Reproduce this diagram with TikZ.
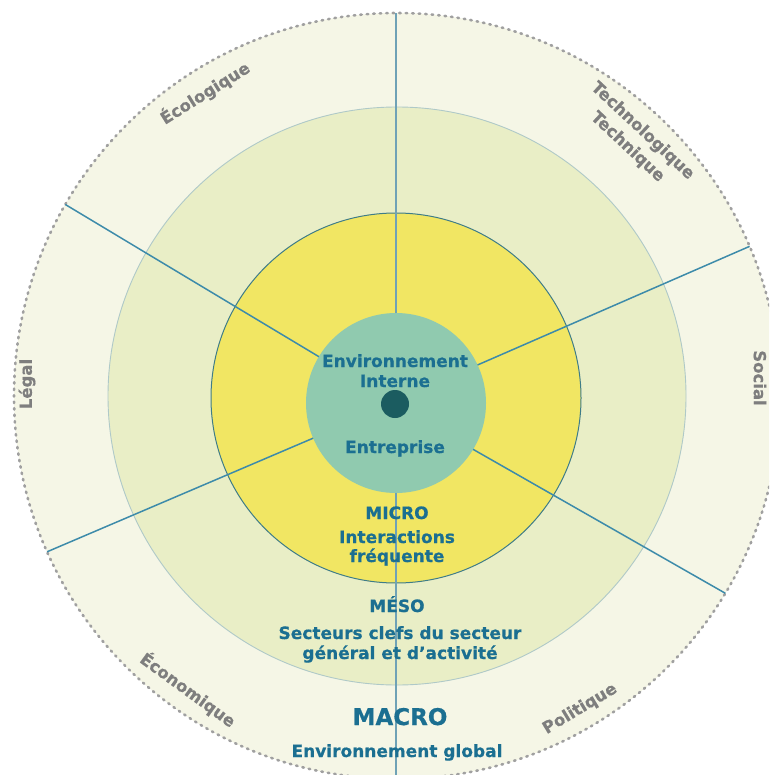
\documentclass[tikz,border=0pt]{standalone}
\usepackage{fontspec}
\setmainfont{DejaVu Sans}[BoldFeatures={FakeBold=0.6}]
\definecolor{outerfill}{HTML}{F5F6E6}
\definecolor{mesofill}{HTML}{E9EEC6}
\definecolor{mesoline}{HTML}{AFC9C8}
\definecolor{microfill}{HTML}{F1E663}
\definecolor{microline}{HTML}{3E7C88}
\definecolor{internfill}{HTML}{90CAAF}
\definecolor{dotfill}{HTML}{1B5C60}
\definecolor{bluetext}{HTML}{1B6F91}
\definecolor{linecol}{HTML}{3D8BAA}
\definecolor{vlinecol}{HTML}{6FA2B6}
\definecolor{graytext}{HTML}{7E7E7E}
\definecolor{dotline}{HTML}{A0A0A0}
\begin{document}
\begin{tikzpicture}[x=1pt,y=-1pt,
  ring/.style={circle, inner sep=0pt, outer sep=0pt},
  conn/.style={draw=linecol, line width=1.5pt},
  vconn/.style={draw=vlinecol, line width=1.7pt},
  bluelbl/.style={text=bluetext, font=\fontsize{17}{20}\selectfont\bfseries, anchor=base, inner sep=0pt},
  biglbl/.style={text=bluetext, font=\fontsize{23}{26}\selectfont\bfseries, anchor=base, inner sep=0pt},
  graylbl/.style={text=graytext, font=\fontsize{16.5}{22}\selectfont\bfseries, align=center, inner sep=0pt}]
\useasboundingbox (0,0) rectangle (769,775);
\clip (0,0) rectangle (769,775);
% rings
\node[ring, minimum size=766pt, fill=outerfill, draw=dotline, line width=2.6pt, dash pattern=on 1.5pt off 5pt, line cap=round] (outer) at (397,396) {};
\node[ring, minimum size=578pt, fill=mesofill, draw=mesoline, line width=0.9pt] (meso) at (397,396) {};
\node[ring, minimum size=370pt, fill=microfill, draw=microline, line width=1pt] (micro) at (396,398) {};
\node[ring, minimum size=180pt, fill=internfill] (intern) at (396,403) {};
% connectors
\draw[vconn] (intern.90) -- (intern.90 |- outer.90);
\draw[vconn] (intern.-90) -- (intern.-90 |- outer.-90);
\draw[conn] (intern.149) -- (outer.150);
\draw[conn] (intern.25) -- (outer.23.5);
\draw[conn] (intern.203) -- (outer.204);
\draw[conn] (intern.-31) -- (outer.-31.5);
% centre dot
\node[ring, minimum size=28pt, fill=dotfill] (dot) at (395,404) {};
% blue texts
\node[bluelbl] (env1) at (395,367) {Environnement};
\node[bluelbl] (env2) at (395,387) {Interne};
\node[bluelbl] (entr) at (395,453) {Entreprise};
\node[bluelbl] (micro1) at (397,519) {MICRO};
\node[bluelbl] (micro2) at (397,543) {Interactions};
\node[bluelbl] (micro3) at (397,562) {fréquente};
\node[bluelbl] (meso1) at (397,612) {MÉSO};
\node[bluelbl] (meso2) at (400,639) {Secteurs clefs du secteur};
\node[bluelbl] (meso3) at (400,659) {général et d’activité};
\node[biglbl] (macro1) at (400,725) {MACRO};
\node[bluelbl] (macro2) at (397,757) {Environnement global};
% grey labels
\node[graylbl, rotate=32] (ecol) at (205,93) {Écologique};
\node[graylbl, rotate=-43] (tech) at (635,139) {Technologique\\Technique};
\node[graylbl, rotate=-90] (soc) at (760,378) {Social};
\node[graylbl, rotate=90] (leg) at (27,384) {Légal};
\node[graylbl, rotate=-36] (econ) at (188,690) {Économique};
\node[graylbl, rotate=31] (pol) at (580,709) {Politique};
\end{tikzpicture}
\end{document}
